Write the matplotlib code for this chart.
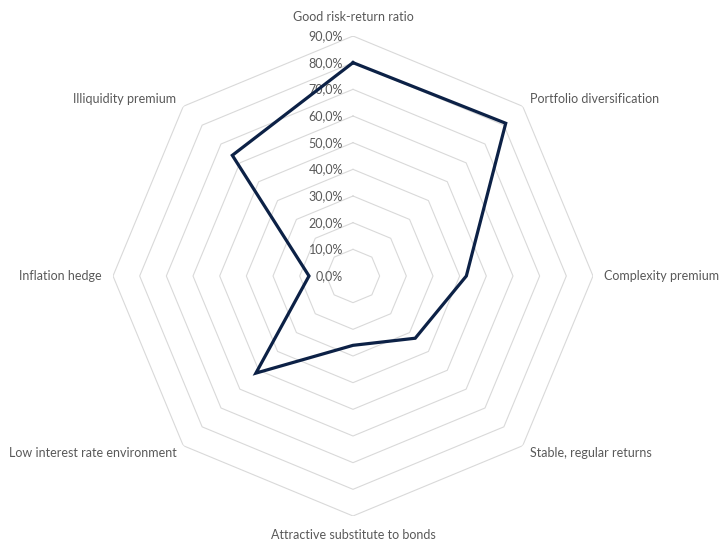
import numpy as np
import matplotlib
matplotlib.use("Agg")
import matplotlib.pyplot as plt

# ── data ─────────────────────────────────────────────
categories = [
    "Good risk-return ratio",
    "Portfolio diversification",
    "Complexity premium",
    "Stable, regular returns",
    "Attractive substitute to bonds",
    "Low interest rate environment",
    "Inflation hedge",
    "Illiquidity premium",
]
values = [0.80, 0.81, 0.425, 0.33, 0.26, 0.515, 0.165, 0.64]
ring_levels = [0.0, 0.1, 0.2, 0.3, 0.4, 0.5, 0.6, 0.7, 0.8, 0.9]
ring_labels = ["0,0%", "10,0%", "20,0%", "30,0%", "40,0%", "50,0%",
               "60,0%", "70,0%", "80,0%", "90,0%"]

# ── style ────────────────────────────────────────────
LINE_COLOR = "#0c2146"
GRID_COLOR = "#d9d9d9"
TEXT_COLOR = "#595959"
plt.rcParams["font.family"] = ["Lato", "DejaVu Sans"]

n = len(categories)
angles = np.linspace(0, 2 * np.pi, n, endpoint=False)
closed = np.append(angles, angles[0])

fig = plt.figure(figsize=(7.2, 5.44), dpi=100, facecolor="white")
ax = fig.add_axes([113 / 720, 28 / 544, 480 / 720, 480 / 544], projection="polar")
ax.set_theta_zero_location("N")
ax.set_theta_direction(-1)
ax.set_ylim(0, 0.9)
ax.axis("off")

# octagon grid rings
for r in ring_levels[1:]:
    ax.plot(closed, [r] * (n + 1), color=GRID_COLOR, linewidth=0.8, zorder=1)

# radial tick labels (along the top spoke, left side)
for r, lab in zip(ring_levels, ring_labels):
    ax.annotate(lab, xy=(0, r), xytext=(-10, 0), textcoords="offset pixels",
                ha="right", va="center", fontsize=9, color=TEXT_COLOR, zorder=2)

# series
ax.plot(closed, values + values[:1], color=LINE_COLOR, linewidth=2.3,
        solid_joinstyle="miter", zorder=3)

# category labels
offsets = [(0, 19, "center"), (7, 7, "left"), (11, 0, "left"), (7, -7, "left"),
           (0, -19, "center"), (-7, -7, "right"), (-11, 0, "right"), (-7, 7, "right")]
for ang, lab, (dx, dy, ha) in zip(angles, categories, offsets):
    ax.annotate(lab, xy=(ang, 0.9), xytext=(dx, dy), textcoords="offset pixels",
                ha=ha, va="center", fontsize=9, color=TEXT_COLOR,
                annotation_clip=False)

fig.savefig("out.png", dpi=100, facecolor="white")
